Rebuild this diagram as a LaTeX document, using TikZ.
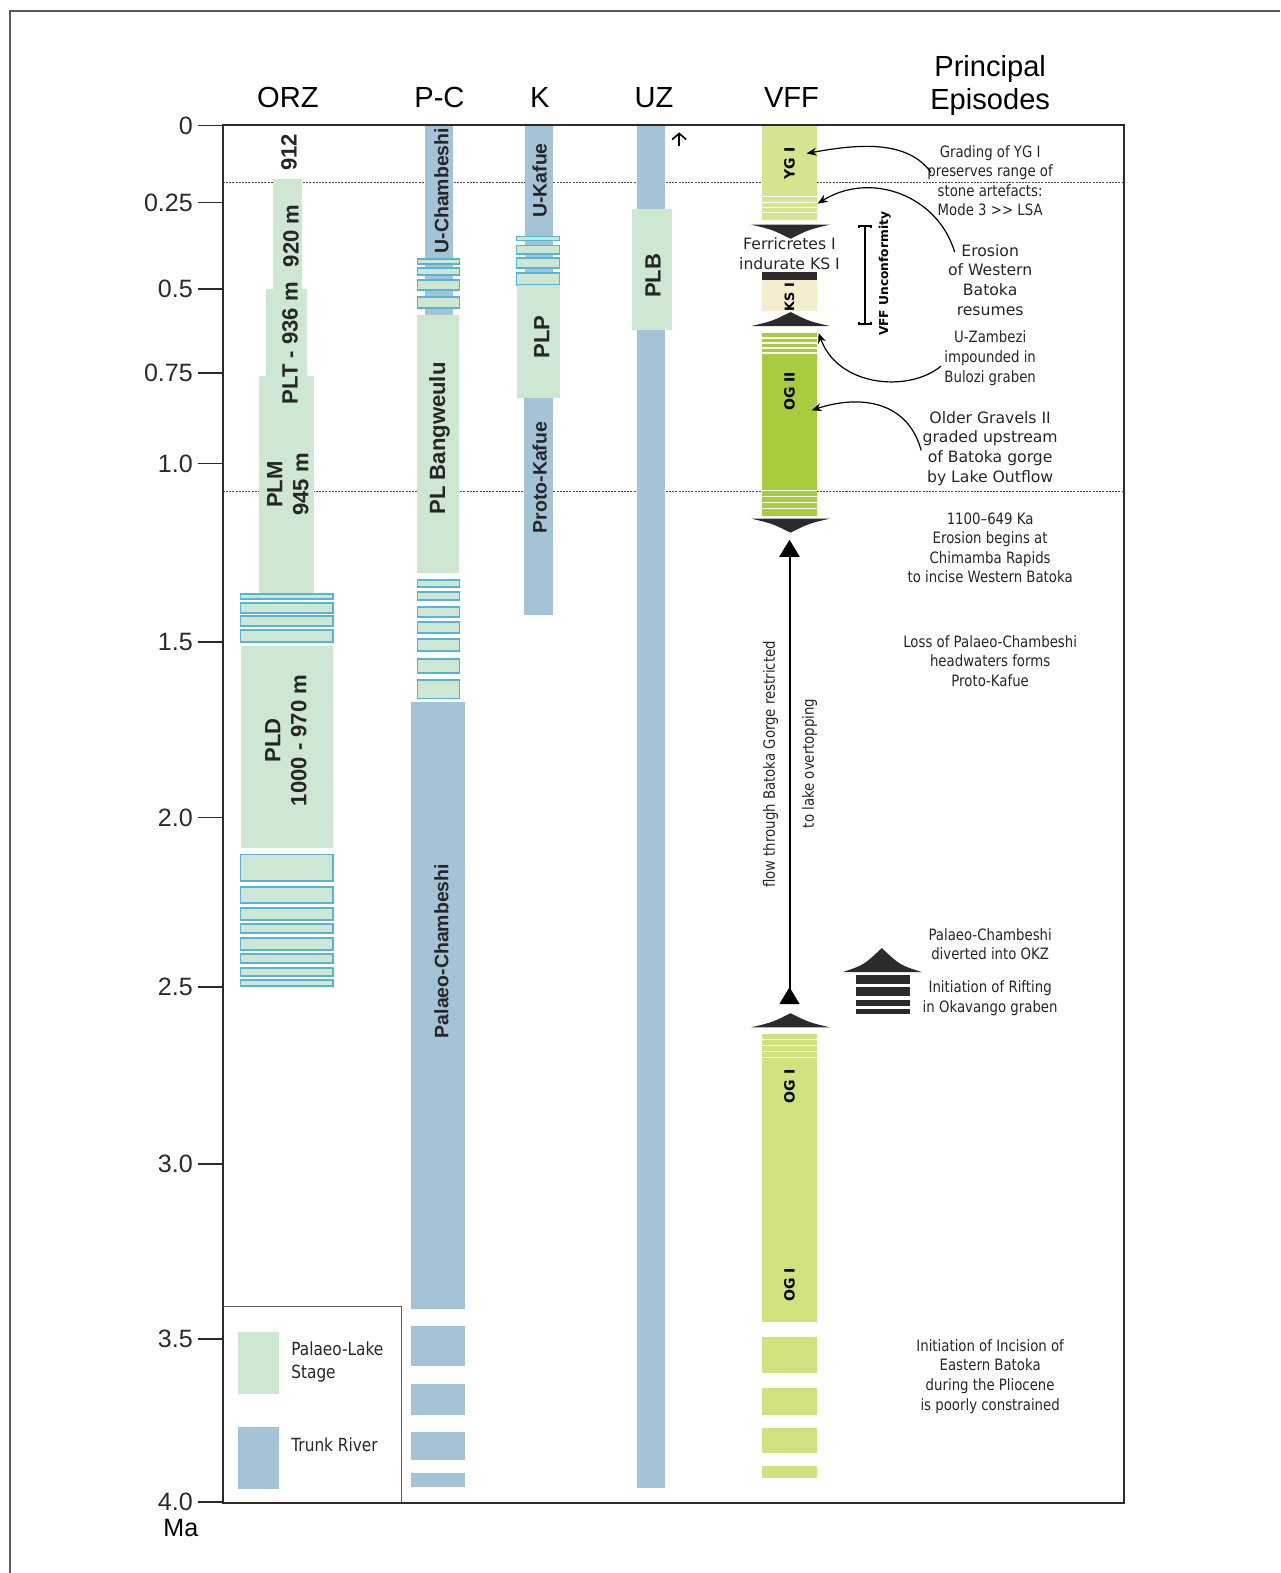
\documentclass[tikz,border=0pt]{standalone}
\usepackage{fontspec}
\setmainfont{Liberation Sans}
\newfontfamily\epifont{DejaVu Sans}
\newfontfamily\epicond{DejaVu Sans}[FakeStretch=0.85]
\usepackage{tikz}
\usetikzlibrary{arrows.meta, positioning, calc}
\definecolor{lakegreen}{HTML}{CEE7D3}
\definecolor{riverblue}{HTML}{A4C3D6}
\definecolor{bandblue}{HTML}{55B4DA}
\definecolor{ygcol}{HTML}{D5E48F}
\definecolor{ogtwo}{HTML}{A8CC3E}
\definecolor{ogone}{HTML}{D0E27D}
\definecolor{kscol}{HTML}{F4ECCB}
\definecolor{ink}{HTML}{2B2B2B}
\tikzset{
  lakebox/.style={fill=lakegreen},
  riverbox/.style={fill=riverblue},
  bandbox/.style={fill=lakegreen, draw=bandblue, line width=0.7pt},
  stripe/.style={white, line width=0.8pt},
  guide/.style={gray!60!black, line width=0.4pt, dash pattern=on 1pt off 0.6pt},
  head/.style={font=\fontsize{14.5}{16.5}\selectfont, inner sep=0pt, align=center},
  tick/.style={font=\fontsize{12.5}{13}\selectfont, anchor=east, inner sep=0pt},
  barlab/.style={rotate=90, font=\bfseries\fontsize{11}{13}\selectfont, text=black!85,
                 align=center, inner sep=0pt},
  riverlab/.style={barlab, font=\bfseries\fontsize{9.7}{11}\selectfont},
  vfflab/.style={rotate=90, font=\epifont\bfseries\fontsize{7}{8}\selectfont, inner sep=0pt},
  epi/.style={font=\epicond\fontsize{7.8}{9.75}\selectfont, align=center, inner sep=0pt,
              text=black!85},
  epiw/.style={epi, font=\epifont\fontsize{7.8}{9.75}\selectfont},
  legtext/.style={font=\epicond\fontsize{9}{11.5}\selectfont, align=left, inner sep=0pt,
                  anchor=west, text=black!85},
  curly/.style={-{Stealth[length=5pt, width=4pt]}, line width=0.6pt},
  flow/.style={{Triangle[reversed, length=8.5pt, width=10pt]}-{Triangle[length=8.5pt, width=10pt]},
               line width=1pt}
}
\begin{document}
\begin{tikzpicture}[x=0.5pt, y=-0.5pt]
  \useasboundingbox (0,0) rectangle (1276,1568);
  \draw[gray!70!black, line width=0.7pt] (1276,11) -- (10,11) -- (10,1568);

  \draw[guide] (222,182) -- (1120,182);
  \draw[guide] (222,490) -- (1120,490);

  % ORZ
  \fill[lakebox] (272,178) rectangle (301,288);
  \fill[lakebox] (265,288) rectangle (306,375);
  \fill[lakebox] (258,375) rectangle (313,592);
  \foreach \a/\b in {592/597, 601/611, 614/624, 628/640}
    \draw[bandbox] (240,\a) rectangle (332,\b);
  \fill[lakebox] (240,644) rectangle (332,845);
  \foreach \a/\b in {852/878, 884/900, 905/917, 921/930, 935/947, 951/960, 965/973, 977/983}
    \draw[bandbox] (240,\a) rectangle (332,\b);
  \node[barlab] (orzA) at (288,152) {912};
  \node[barlab] (orzB) at (290,235) {920 m};
  \node[barlab] (plt) at (289,342) {PLT - 936 m};
  \node[barlab] (plm) at (287,483) {PLM\\945 m};
  \node[barlab] (pld) at (285,738) {PLD\\1000 - 970 m};

  % P-C
  \fill[riverbox] (424,125) rectangle (452,314);
  \foreach \a/\b in {258/263, 267/274, 279/289, 296/307}
    \draw[bandbox] (416,\a) rectangle (458,\b);
  \fill[lakebox] (416,314) rectangle (458,571);
  \foreach \a/\b in {578/585, 590/598, 605/615, 620/631, 637/649, 657/671, 678/696}
    \draw[bandbox] (416,\a) rectangle (458,\b);
  \fill[riverbox] (410,700) rectangle (464,1305);
  \foreach \a/\b in {1322/1362, 1380/1410, 1427/1455, 1468/1482}
    \fill[riverbox] (410,\a) rectangle (464,\b);
  \node[riverlab] (uch) at (440,190) {U-Chambeshi};
  \node[barlab] (plbang) at (438,437) {PL Bangweulu};
  \node[riverlab] (pch) at (440,948) {Palaeo-Chambeshi};

  % K
  \fill[riverbox] (523,125) rectangle (551,284);
  \foreach \a/\b in {236/240, 245/253, 257/267, 272/284}
    \draw[bandbox] (515,\a) rectangle (558,\b);
  \fill[lakebox] (515,284) rectangle (558,397);
  \fill[riverbox] (522,397) rectangle (551,613);
  \node[riverlab] (ukaf) at (538,180) {U-Kafue};
  \node[barlab] (plp) at (540,336) {PLP};
  \node[riverlab] (pkaf) at (538,476) {Proto-Kafue};

  % UZ
  \fill[riverbox] (635,125) rectangle (663,1483);
  \fill[lakebox] (630,208) rectangle (670,329);
  \node[barlab] (plb) at (651,275) {PLB};
  \coordinate (uzLo) at (677,146);
  \coordinate (uzHi) at (677,132);
  \draw[-{Straight Barb[length=3pt, width=7pt]}, line width=0.8pt] (uzLo) -- (uzHi);

  % VFF
  \fill[ygcol] (760,125) rectangle (814,219);
  \foreach \s in {196,202,207,212} \draw[stripe] (760,\s) -- (814,\s);
  \fill[ink] (760,271) rectangle (814,279);
  \fill[kscol] (760,279) rectangle (814,310);
  \fill[ogtwo] (760,332) rectangle (814,514);
  \foreach \s in {337,342,347,352,489,495,501,507} \draw[stripe] (760,\s) -- (814,\s);
  \fill[ogone] (760,1031) rectangle (814,1318);
  \foreach \s in {1036,1042,1048,1054} \draw[stripe] (760,\s) -- (814,\s);
  \foreach \a/\b in {1333/1369, 1384/1410, 1423/1448, 1461/1473}
    \fill[ogone] (760,\a) rectangle (814,\b);
  \foreach \yy/\dd in {224/1, 325/-1, 517/1, 1024/-1}
    \fill[ink] (749,\yy) -- (827,\yy) .. controls (806,{\yy+5*\dd}) .. (788,{\yy+14*\dd})
      .. controls (770,{\yy+5*\dd}) .. (749,\yy) -- cycle;
  \node[vfflab] (yg) at (787,163) {YG I};
  \node[vfflab, font=\epifont\bfseries\fontsize{6.4}{7}\selectfont] (ks) at (787,296) {KS I};
  \node[vfflab] (og2) at (787,390) {OG II};
  \node[vfflab] (og1a) at (787,1083) {OG I};
  \node[vfflab] (og1b) at (787,1281) {OG I};
  \node[epiw] (ferri) at (787,253) {Ferricretes I\\indurate KS I};

  \coordinate (uncTop) at (862,224);
  \coordinate (uncBot) at (862,324);
  \draw[{Tee Barb[width=7pt, length=1.5pt]}-{Tee Barb[width=7pt, length=1.5pt]}, line width=1pt]
    (uncTop) -- (uncBot);
  \node[rotate=90, inner sep=0pt, font=\epifont\bfseries\fontsize{6.1}{7}\selectfont] (unc)
    at (882,273) {VFF Unconformity};

  \coordinate (flowTop) at (787,538);
  \coordinate (flowBot) at (787,1001);
  \draw[flow] (flowBot) -- (flowTop);
  \node[epi, rotate=90] (flowA) at (768,762) {flow through Batoka Gorge restricted};
  \node[epi, rotate=90] (flowB) at (807,761) {to lake overtopping};

  \fill[ink] (840,969) -- (919,969) .. controls (897,962) .. (879,945)
    .. controls (861,962) .. (840,969) -- cycle;
  \foreach \a/\b in {972/981, 984/993, 997/1003, 1006/1011}
    \fill[ink] (853,\a) rectangle (907,\b);

  % episodes
  \node[epi] (grad) at (987,180) {Grading of YG I\\preserves range of\\stone artefacts:\\Mode 3 >> LSA};
  \node[epiw] (eros) at (987,279) {Erosion\\of Western\\Batoka\\resumes};
  \node[epi] (uzam) at (987,357) {U-Zambezi\\impounded in\\Bulozi graben};
  \node[epiw] (older) at (987,447) {Older Gravels II\\graded upstream\\of Batoka gorge\\by Lake Outflow};
  \node[epi] (chim) at (987,546) {1100–649 Ka\\Erosion begins at\\Chimamba Rapids\\to incise Western Batoka};
  \node[epi] (loss) at (987,659) {Loss of Palaeo-Chambeshi\\headwaters forms\\Proto-Kafue};
  \node[epi] (okz) at (987,941) {Palaeo-Chambeshi\\diverted into OKZ};
  \node[epi] (rift) at (987,995) {Initiation of Rifting\\in Okavango graben};
  \node[epi] (incis) at (987,1372) {Initiation of Incision of\\Eastern Batoka\\during the Pliocene\\is poorly constrained};

  \coordinate (ygTip) at (804,153);
  \coordinate (erTip) at (815,203);
  \coordinate (uzTip) at (816,332);
  \coordinate (ogTip) at (809,409);
  \draw[curly] ($(grad.west)+(4,-8)$) .. controls (905,140) and (858,143) .. (ygTip);
  \draw[curly] ($(eros.north west)+(7,8)$) .. controls (935,195) and (868,170) .. (erTip);
  \draw[curly] ($(uzam.west)+(-3,8)$) .. controls (905,392) and (835,385) .. (uzTip);
  \draw[curly] ($(older.west)+(-1,2)$) .. controls (905,400) and (858,393) .. (ogTip);

  % axis
  \draw[ink, line width=1pt] (222,125) rectangle (1120,1498);
  \foreach \v/\yy in {0/125, 0.25/202, 0.5/288, 0.75/372, 1.0/462, 1.5/640, 2.0/815,
                      2.5/984, 3.0/1160, 3.5/1335, 4.0/1497}
    \draw[ink, line width=0.8pt] (197,\yy) -- (222,\yy) node[tick] (tk\yy) at (193,\yy) {\v};
  \node[tick] (ma) at (198,1523) {Ma};

  \node[head] (hOrz) at (287,97) {ORZ};
  \node[head] (hPc) at (438,97) {P-C};
  \node[head] (hK) at (538,97) {K};
  \node[head] (hUz) at (652,97) {UZ};
  \node[head] (hVff) at (789,97) {VFF};
  \node[head] (hEpi) at (987,85) {Principal\\Episodes};

  % legend
  \draw[gray!70!black, line width=0.5pt] (222,1302) -- (400,1302) -- (400,1498);
  \fill[lakebox] (237,1328) rectangle (278,1390);
  \fill[riverbox] (237,1422) rectangle (278,1484);
  \node[legtext] (legLake) at (290,1358) {Palaeo-Lake\\Stage};
  \node[legtext] (legRiver) at (290,1440) {Trunk River};
\end{tikzpicture}
\end{document}
